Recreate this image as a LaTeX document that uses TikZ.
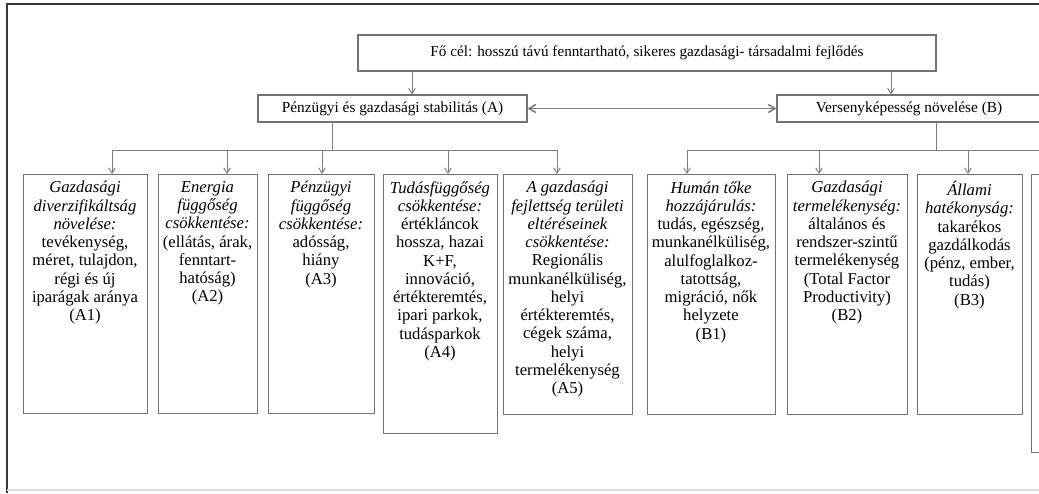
\documentclass[tikz,border=0pt]{standalone}
\usepackage{fontspec}
\setmainfont{Liberation Serif}
\usepackage{xcolor}
\usetikzlibrary{arrows.meta}
\definecolor{linegray}{RGB}{125,125,125}
\definecolor{boxgray}{RGB}{115,115,115}
\definecolor{framegray}{RGB}{55,55,55}

\begin{document}
\begin{tikzpicture}[x=0.75pt,y=0.75pt,yscale=-1,xscale=1,
  headbox/.style={draw=boxgray, line width=0.8pt, inner sep=0pt, fill=white,
    font=\fontsize{11.5}{13}\selectfont},
  subbox/.style={draw=boxgray, line width=0.8pt, inner sep=0pt, anchor=north west},
  boxtext/.style={anchor=north, align=center, inner sep=0pt,
    font=\fontsize{12.5}{13.7}\selectfont},
  conn/.style={draw=linegray, line width=0.7pt},
  arr/.style={conn, -{Straight Barb[length=4pt,width=5pt]}}]
\useasboundingbox (0,0) rectangle (1039,493);
\clip (0,0) rectangle (1039,493);

%Frame of the page
\draw[framegray, line width=1.6pt] (7,493) -- (7,4) -- (1039,4);
\draw[black!12, line width=0.8pt] (7,490) -- (1039,490);

% Text Node
\node[headbox, minimum width=578*0.75pt, minimum height=36*0.75pt, font=\fontsize{11.4}{13}\selectfont] (goal) at (647,53)
  {Fő cél: hosszú távú fenntartható, sikeres gazdasági- társadalmi fejlődés};
% Text Node
\node[headbox, minimum width=269*0.75pt, minimum height=27*0.75pt] (stabA) at (392.5,108.5)
  {Pénzügyi és gazdasági stabilitás (A)};
% Text Node
\node[headbox, minimum width=264*0.75pt, minimum height=27*0.75pt] (compB) at (909,108.5)
  {Versenyképesség növelése (B)};

%Straight Lines from the goal
\coordinate (ga) at (412,71);
\coordinate (gb) at (891,71);
\draw[arr] (ga) -- (ga |- stabA.north);
\draw[arr] (gb) -- (gb |- compB.north);
\draw[conn, line width=1.2pt, {Straight Barb[length=5pt,width=6pt]}-{Straight Barb[length=5pt,width=6pt]}] (stabA.east) -- (compB.west);

%Shape: Boxes of A
\node[subbox, minimum width=124*0.75pt, minimum height=239*0.75pt] (a1) at (23,174) {};
\node[subbox, minimum width=99*0.75pt, minimum height=239*0.75pt] (a2) at (158,174) {};
\node[subbox, minimum width=106*0.75pt, minimum height=239*0.75pt] (a3) at (268,174) {};
\node[subbox, minimum width=114*0.75pt, minimum height=259*0.75pt] (a4) at (383,174) {};
\node[subbox, minimum width=129*0.75pt, minimum height=240*0.75pt] (a5) at (503,174) {};
%Shape: Boxes of B
\node[subbox, minimum width=128*0.75pt, minimum height=240*0.75pt] (b1) at (647,174) {};
\node[subbox, minimum width=120*0.75pt, minimum height=240*0.75pt] (b2) at (787,174) {};
\node[subbox, minimum width=105*0.75pt, minimum height=240*0.75pt] (b3) at (917,174) {};
\node[subbox, minimum width=60*0.75pt, minimum height=278*0.75pt] (b4) at (1031,174) {};

%Straight Lines of the bus A
\coordinate (busA) at (332,150);
\coordinate (da1) at (112,150);
\coordinate (da2) at (227,150);
\coordinate (da3) at (322,150);
\coordinate (da4) at (448,150);
\coordinate (da5) at (557,150);
\draw[conn] (stabA.south -| busA) -- (busA);
\draw[conn] (da1) -- (da5);
%Straight Lines of the bus B
\coordinate (busB) at (936,150);
\coordinate (db1) at (687,150);
\coordinate (db2) at (819,150);
\coordinate (db3) at (968,150);
\coordinate (dbend) at (1045,150);
\draw[conn] (compB.south -| busB) -- (busB);
\draw[conn] (db1) -- (dbend);

\foreach \d/\b in {da1/a1,da2/a2,da3/a3,da4/a4,da5/a5,db1/b1,db2/b2,db3/b3}
  \draw[arr] (\d) -- (\d |- \b.north);

% Text Node
\node[boxtext] (a1t) at (85,181) {\textit{Gazdasági}\\ \textit{diverzifikáltság}\\ \textit{növelése:}\\
  tevékenység,\\ méret, tulajdon,\\ régi és új\\ iparágak aránya\\ (A1)};
% Text Node
\node[boxtext] (a2t) at (207.5,181) {\textit{Energia}\\ \textit{függőség}\\ \textit{csökkentése:}\\
  (ellátás, árak,\\ fenntart-\\ hatóság)\\ (A2)};
% Text Node
\node[boxtext] (a3t) at (321,181) {\textit{Pénzügyi}\\ \textit{függőség}\\ \textit{csökkentése:}\\
  adósság,\\ hiány\\ (A3)};
% Text Node
\node[boxtext] (a4t) at (440,181) {\textit{Tudásfüggőség}\\ \textit{csökkentése:}\\
  értékláncok\\ hossza, hazai\\ K+F,\\ innováció,\\ értékteremtés,\\ ipari parkok,\\ tudásparkok\\ (A4)};
% Text Node
\node[boxtext] (a5t) at (567.5,181) {\textit{A gazdasági}\\ \textit{fejlettség területi}\\ \textit{eltéréseinek}\\ \textit{csökkentése:}\\
  Regionális\\ munkanélküliség,\\ helyi\\ értékteremtés,\\ cégek száma,\\ helyi\\ termelékenység\\ (A5)};
% Text Node
\node[boxtext] (b1t) at (711,181) {\textit{Humán tőke}\\ \textit{hozzájárulás:}\\
  tudás, egészség,\\ munkanélküliség,\\ alulfoglalkoz-\\ tatottság,\\ migráció, nők\\ helyzete\\ (B1)};
% Text Node
\node[boxtext] (b2t) at (847,181) {\textit{Gazdasági}\\ \textit{termelékenység:}\\
  általános és\\ rendszer-szintű\\ termelékenység\\ (Total Factor\\ Productivity)\\ (B2)};
% Text Node
\node[boxtext] (b3t) at (969.5,181) {\textit{Állami}\\ \textit{hatékonyság:}\\
  takarékos\\ gazdálkodás\\ (pénz, ember,\\ tudás)\\ (B3)};

\end{tikzpicture}
\end{document}
